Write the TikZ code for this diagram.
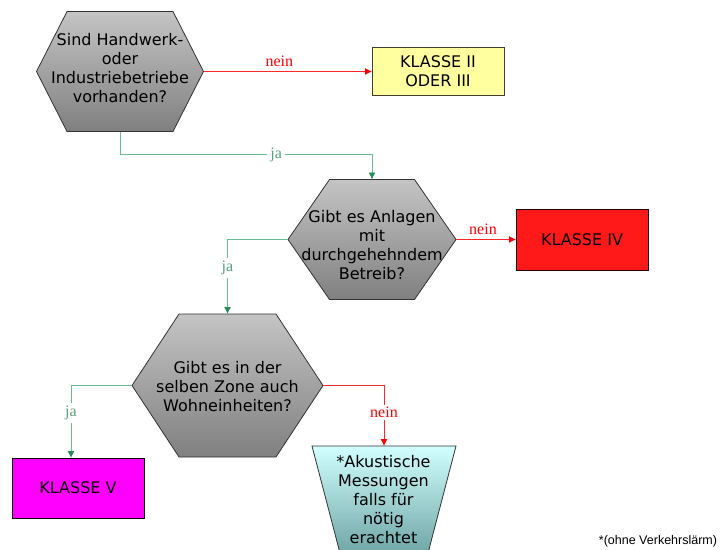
\documentclass[tikz,border=0pt]{standalone}
\usepackage{fontspec}
\setmainfont{DejaVu Sans}
\newfontfamily\edgefont{Liberation Serif}
\newfontfamily\notefont{Liberation Sans}
\usetikzlibrary{arrows.meta,calc}

\definecolor{hextop}{RGB}{196,196,196}
\definecolor{hexbot}{RGB}{128,128,128}
\definecolor{yesline}{RGB}{105,190,145}
\definecolor{yestip}{RGB}{40,140,90}
\definecolor{noline}{RGB}{255,40,40}
\definecolor{klyellow}{RGB}{255,255,160}
\definecolor{klred}{RGB}{255,25,25}
\definecolor{klmagenta}{RGB}{255,0,255}
\definecolor{trtop}{RGB}{210,255,255}
\definecolor{trbot}{RGB}{105,160,160}

\tikzset{
  qtext/.style={align=center, inner sep=0pt, font=\fontsize{16}{19}\selectfont},
  holder/.style={inner sep=0pt, outer sep=0pt},
  hexbody/.style={draw=black!80, line width=0.8pt, top color=hextop, bottom color=hexbot},
  result/.style={draw=black!80, line width=0.8pt, align=center, inner sep=0pt, outer sep=0pt,
                 minimum width=132pt, font=\fontsize{16}{19}\selectfont},
  yes/.style={draw=yesline, line width=0.9pt, -{Latex[length=7pt,width=7pt,color=yestip]}},
  no/.style={draw=noline, line width=0.9pt, -{Latex[length=7pt,width=7pt,color=red]}},
  yeslabel/.style={text=yesline!85!black, font=\edgefont\fontsize{16}{16}\selectfont,
                   fill=white, inner sep=3pt},
  nolabel/.style={text=red, font=\edgefont\fontsize{16}{16}\selectfont, inner sep=2pt},
}

% name, cx, cy, width, height, corner inset, text shift, text
\newcommand\hexq[8]{%
  \shade[hexbody] ({#2-#4/2},{#3}) -- ({#2-#4/2+#6},{#3-#5/2}) -- ({#2+#4/2-#6},{#3-#5/2})
     -- ({#2+#4/2},{#3}) -- ({#2+#4/2-#6},{#3+#5/2}) -- ({#2-#4/2+#6},{#3+#5/2}) -- cycle;
  \node[holder, minimum width=#4pt, minimum height=#5pt] (#1) at ({#2},{#3}) {};
  \node[qtext] at ({#2},{#3+(#7)}) {#8};
}

\begin{document}
\begin{tikzpicture}[x=1pt,y=-1pt]
\useasboundingbox (0,0) rectangle (722,549);

% decisions
\hexq{q1}{120}{71.5}{167}{120}{30.5}{-3}{Sind Handwerk-\\oder\\Industriebetriebe\\vorhanden?}
\hexq{q2}{372}{239.5}{168}{120}{41.5}{6}{Gibt es Anlagen\\mit\\durchgehehndem\\Betreib?}
\hexq{q3}{227.5}{385.5}{191}{143}{47}{1}{Gibt es in der\\selben Zone auch\\Wohneinheiten?}

% outcomes
\node[result, fill=klyellow, draw=black!70!olive, minimum height=48pt] (k23) at (438,71.5) {KLASSE II\\ODER III};
\node[result, fill=klred, draw=black!85!red, minimum height=61pt] (k4) at (582,239.5) {KLASSE IV};
\node[result, fill=klmagenta, draw=black, minimum height=60pt] (k5) at (78,488) {KLASSE V};

% measurement trapezoid (runs off the lower edge)
\shade[draw=black!80, line width=0.8pt, top color=trtop, bottom color=trbot]
  (312,446) -- (456,446) -- (426.2,560) -- (341.8,560) -- cycle;
\node[holder, minimum width=144pt, minimum height=103pt] (trbox) at (384,497.5) {};
\node[qtext] at (383.5,500) {*Akustische\\Messungen\\falls für\\nötig\\erachtet};

% connectors
\draw[no] (q1.east) -- node[nolabel, above, pos=0.45, yshift=2pt] {nein} (k23.west);
\draw[yes] (q1.south) -- ++(0,23) coordinate (c1) -| node[yeslabel, pos=0.31] {ja} (q2.north);
\draw[no] (q2.east) -- node[nolabel, above, pos=0.45, yshift=2pt] {nein} (k4.west);
\draw[yes] (q2.west) -| node[yeslabel, pos=0.69] {ja} (q3.north);
\draw[yes] (q3.west) -| node[yeslabel, pos=0.69] {ja} ($(k5.north)+(-7,0)$);
\draw[no] (q3.east) -| node[nolabel, fill=white, pos=0.72] {nein} (trbox.north);

% footnote
\node[font=\notefont\fontsize{12.5}{15}\selectfont] (fn) at (658,541) {*(ohne Verkehrslärm)};
\end{tikzpicture}
\end{document}
